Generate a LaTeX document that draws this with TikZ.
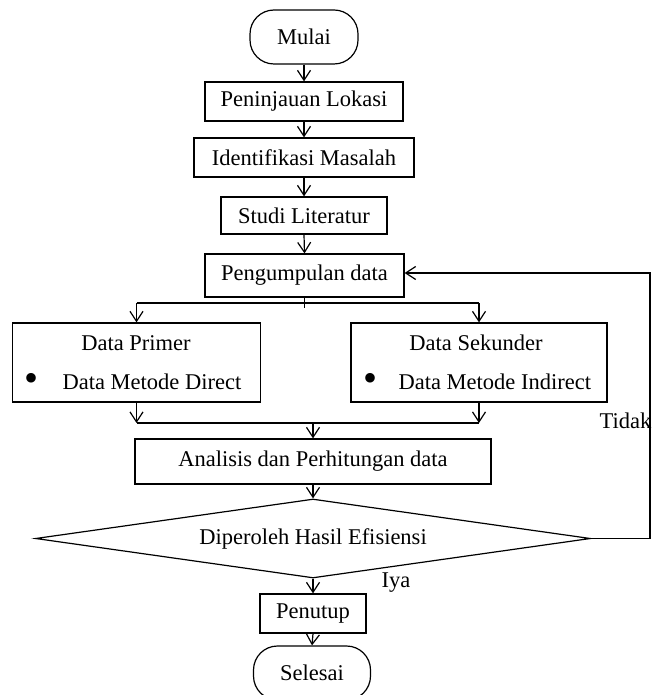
\documentclass[tikz,border=0pt]{standalone}
\usepackage{fontspec}
\setmainfont{Liberation Serif}
\usetikzlibrary{shapes.geometric,arrows.meta}
\begin{document}
\begin{tikzpicture}[x=0.5pt,y=-0.5pt,
  line width=0.6pt,
  font=\fontsize{11.25}{13}\selectfont,
  box/.style={draw,rectangle,inner sep=0pt},
  term/.style={draw,rectangle,rounded corners=12pt,inner sep=0pt},
  dec/.style={draw,diamond,shape aspect=7,inner sep=0pt},
  txt/.style={inner sep=0pt},
  bul/.style={inner sep=0pt,font=\fontsize{20}{20}\selectfont},
  arr/.style={-{Straight Barb[length=5pt,width=6.5pt]}}]
\useasboundingbox (0,0) rectangle (652,695);
\clip (0,0) rectangle (652,695);
% nodes
\node[term, minimum width=54pt, minimum height=27pt] (mulai) at (304,37) {Mulai};
\node[box, minimum width=99pt, minimum height=19.5pt] (pen) at (304,101.5) {Peninjauan Lokasi};
\node[box, minimum width=110pt, minimum height=19.5pt] (ide) at (304,157.5) {Identifikasi Masalah};
\node[box, minimum width=83pt, minimum height=18.5pt] (stu) at (304,215.5) {Studi Literatur};
\node[box, minimum width=99.5pt, minimum height=21.5pt] (pd) at (304.5,275.5) {Pengumpulan data};
\node[box, minimum width=124pt, minimum height=39.5pt] (pri) at (136.5,362.5) {};
\node[box, minimum width=128pt, minimum height=39.5pt] (sek) at (479,362.5) {};
\node[txt] (prit) at (136,343) {Data Primer};
\node[bul] (prib) at (32,382) {•};
\node[txt, anchor=west] (prid) at (62,382) {Data Metode Direct};
\node[txt] (sekt) at (476,343) {Data Sekunder};
\node[bul] (sekb) at (370,382) {•};
\node[txt, anchor=west] (sekd) at (398,382) {Data Metode Indirect};
\node[box, minimum width=178pt, minimum height=22.5pt] (ana) at (313,461.5) {Analisis dan Perhitungan data};
\node[dec, minimum width=277.5pt, minimum height=39.5pt] (dia) at (313,538.5) {Diperoleh Hasil Efisiensi};
\node[box, minimum width=53pt, minimum height=19.5pt] (put) at (313,613.5) {Penutup};
\node[term, minimum width=58.5pt, minimum height=27pt] (sel) at (312,673) {Selesai};
\node[txt, anchor=base west] (tidak) at (599,428) {Tidak};
\node[txt, anchor=base west] (iya) at (381,587) {Iya};
% coordinates
\coordinate (ts) at (304.5,308);
\coordinate (tl) at (136.5,303);
\coordinate (tr) at (479,303);
\coordinate (bl) at (136.5,423);
\coordinate (br) at (479,423);
\coordinate (bm) at (313,423);
\coordinate (fr) at (650,538.5);
\coordinate (fu) at (650,273);
% connectors
\draw[arr] (mulai.south) -- (pen.north);
\draw[arr] (pen.south) -- (ide.north);
\draw[arr] (ide.south) -- (stu.north);
\draw[arr] (stu.south) -- (pd.north);
\draw (pd.south) -- (ts);
\draw (tl) -- (tr);
\draw[arr] (tl) -- (pri.north);
\draw[arr] (tr) -- (sek.north);
\draw[arr] (pri.south) -- (bl);
\draw[arr] (sek.south) -- (br);
\draw (bl) -- (br);
\draw[arr] (bm) -- (ana.north);
\draw[arr] (ana.south) -- (dia.north);
\draw[arr] (dia.south) -- (put.north);
\draw[arr] (put.south) -- (sel.north);
\draw[arr] (dia.east) -- (fr) -- (fu) -- (pd.east |- fu);
\end{tikzpicture}
\end{document}
